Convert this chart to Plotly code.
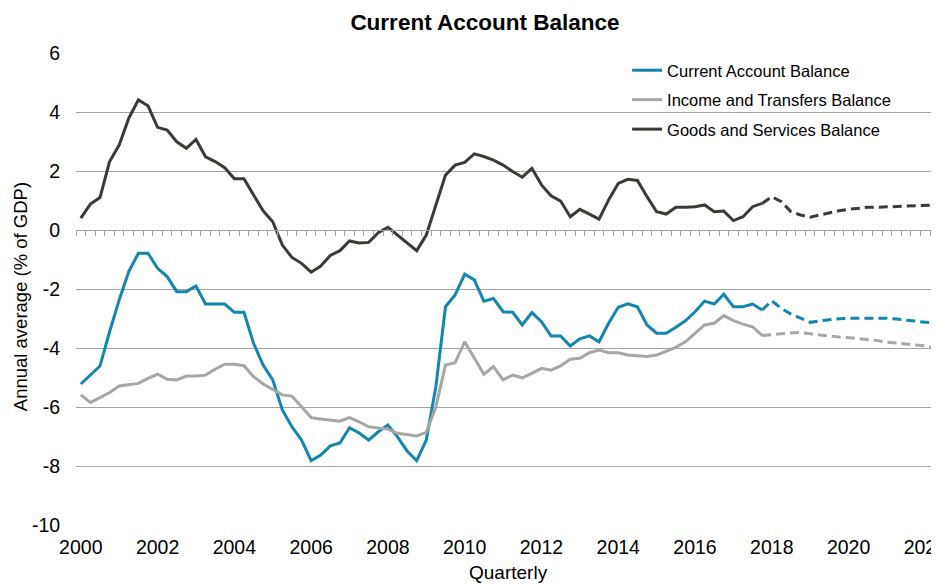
import plotly.graph_objects as go

# Quarterly values, 2000Q1 .. 2017Q4 (actual) and 2017Q4 .. 2022Q2 (forecast)
start_year = 2000
current_actual = [-5.22, -4.92, -4.61, -3.45, -2.37, -1.41, -0.79, -0.79, -1.30, -1.58,
                  -2.09, -2.09, -1.90, -2.51, -2.51, -2.51, -2.79, -2.79, -3.84, -4.58,
                  -5.08, -6.10, -6.67, -7.12, -7.82, -7.63, -7.32, -7.22, -6.70, -6.88,
                  -7.12, -6.84, -6.61, -7.01, -7.49, -7.82, -7.12, -5.31, -2.60, -2.20,
                  -1.50, -1.69, -2.41, -2.32, -2.77, -2.79, -3.22, -2.80, -3.11, -3.59,
                  -3.59, -3.93, -3.69, -3.59, -3.79, -3.16, -2.62, -2.50, -2.60, -3.22,
                  -3.50, -3.50, -3.30, -3.08, -2.77, -2.41, -2.51, -2.18, -2.60, -2.60,
                  -2.51, -2.71]
income_actual = [-5.59, -5.85, -5.68, -5.51, -5.29, -5.25, -5.20, -5.03, -4.89, -5.06,
                 -5.08, -4.95, -4.95, -4.92, -4.72, -4.55, -4.55, -4.60, -4.97, -5.22,
                 -5.42, -5.59, -5.63, -5.99, -6.36, -6.41, -6.44, -6.48, -6.36, -6.50,
                 -6.67, -6.72, -6.75, -6.89, -6.93, -6.98, -6.86, -5.99, -4.58, -4.50,
                 -3.79, -4.35, -4.89, -4.63, -5.08, -4.92, -5.01, -4.86, -4.69, -4.75,
                 -4.61, -4.38, -4.35, -4.16, -4.07, -4.16, -4.16, -4.24, -4.27, -4.29,
                 -4.24, -4.12, -3.98, -3.79, -3.50, -3.22, -3.16, -2.90, -3.07, -3.19,
                 -3.28, -3.58]
goods_actual = [0.40, 0.88, 1.10, 2.32, 2.88, 3.79, 4.41, 4.21, 3.48, 3.39,
                2.99, 2.77, 3.07, 2.48, 2.32, 2.11, 1.74, 1.74, 1.19, 0.65,
                0.28, -0.51, -0.93, -1.13, -1.43, -1.22, -0.86, -0.70, -0.37, -0.44,
                -0.42, -0.09, 0.09, -0.17, -0.45, -0.70, -0.17, 0.82, 1.86, 2.20,
                2.29, 2.58, 2.49, 2.37, 2.20, 1.98, 1.79, 2.09, 1.53, 1.16,
                0.98, 0.45, 0.70, 0.54, 0.37, 1.02, 1.58, 1.72, 1.68, 1.13,
                0.62, 0.54, 0.77, 0.77, 0.79, 0.85, 0.62, 0.64, 0.32, 0.45,
                0.79, 0.90]
current_forecast = [-2.71, -2.40, -2.66, -2.85, -2.99, -3.13, -3.08, -3.04, -3.01, -2.99,
                    -2.99, -2.99, -2.99, -2.99, -3.02, -3.05, -3.08, -3.12, -3.16]
income_forecast = [-3.58, -3.54, -3.52, -3.49, -3.47, -3.52, -3.56, -3.59, -3.63, -3.65,
                   -3.68, -3.71, -3.75, -3.80, -3.83, -3.85, -3.89, -3.93, -3.99]
goods_forecast = [0.90, 1.13, 0.96, 0.62, 0.51, 0.43, 0.51, 0.59, 0.65, 0.70,
                  0.73, 0.77, 0.77, 0.79, 0.79, 0.81, 0.82, 0.83, 0.85]

series_names = ["Current Account Balance", "Income and Transfers Balance", "Goods and Services Balance"]
year_ticks = list(range(2000, 2023, 2))
y_ticks = list(range(-10, 7, 2))
y_tick_labels = [str(v) for v in y_ticks]  # plain hyphen minus, as in the original

x_actual = [start_year + i / 4 for i in range(len(current_actual))]
f0 = len(current_actual) - 1
x_forecast = [start_year + (f0 + i) / 4 for i in range(len(current_forecast))]

BLUE = "#1386AD"
GREY = "#A6A6A6"
DARK = "#3B3B36"
GRID = "#A3A3A3"
FONT = "Arial, Liberation Sans, sans-serif"

# layout geometry (page has an 8px body margin)
W, H = 939, 587
ML, MT, MB, MR = 68, 45, 70, 0
PW = W - ML - MR
PH = H - MT - MB

fig = go.Figure()
for name, ya, yf, col in [
    (series_names[0], current_actual, current_forecast, BLUE),
    (series_names[1], income_actual, income_forecast, GREY),
    (series_names[2], goods_actual, goods_forecast, DARK),
]:
    fig.add_trace(go.Scatter(x=x_actual, y=ya, mode="lines", name=name, legendgroup=name,
                             line=dict(color=col, width=3)))
    fig.add_trace(go.Scatter(x=x_forecast, y=yf, mode="lines", name=name + " (forecast)",
                             legendgroup=name, showlegend=False,
                             line=dict(color=col, width=3, dash="9px,5px")))

# helper trace so the zero-line category axis is drawn
fig.add_trace(go.Scatter(x=[2000], y=[None], xaxis="x2", showlegend=False, hoverinfo="skip"))

fig.update_layout(
    width=W, height=H,
    margin=dict(l=ML, r=MR, t=MT, b=MB),
    paper_bgcolor="white", plot_bgcolor="white",
    font=dict(family=FONT, color="black", size=18),
    title=dict(text="<b>Current Account Balance</b>", x=477 / W, xref="container",
               xanchor="center", y=1 - 14 / H, yanchor="middle",
               font=dict(size=22.5, family=FONT, color="black")),
    xaxis=dict(range=[1999.875, 2022.486], tickmode="array", tickvals=year_ticks,
               ticktext=[str(y) for y in year_ticks], showgrid=False, zeroline=False,
               showline=False, ticks="outside", ticklen=5, tickcolor="rgba(0,0,0,0)",
               tickfont=dict(size=19.5), ticklabeloverflow="allow"),
    xaxis2=dict(overlaying="x", matches="x", anchor="free", position=10 / 16, side="bottom",
                showgrid=False, zeroline=False, showline=True, linecolor=GRID, linewidth=1,
                ticks="outside", ticklen=5, tickcolor=GRID, tickwidth=1,
                tick0=1999.875, dtick=0.25, showticklabels=False),
    yaxis=dict(range=[-10, 6], tickmode="array", tickvals=y_ticks, ticktext=y_tick_labels,
               showgrid=True, gridcolor=GRID, gridwidth=1, zeroline=False, showline=False,
               ticks="outside", ticklen=11, tickcolor="rgba(0,0,0,0)",
               tickfont=dict(size=19.5)),
    legend=dict(x=(621 - ML) / PW, y=1.0, xanchor="left", yanchor="top",
                font=dict(size=16.5), bgcolor="rgba(0,0,0,0)", tracegroupgap=5,
                traceorder="grouped"),
    annotations=[
        dict(text="Annual average (% of GDP)", xref="paper", yref="paper",
             x=(12 - ML) / PW, y=(H - MB - 289) / PH, xanchor="center", yanchor="middle",
             textangle=-90, showarrow=False, font=dict(size=18.5)),
        dict(text="Quarterly", xref="paper", yref="paper",
             x=(502 - ML) / PW, y=-(564 - (H - MB)) / PH, xanchor="center", yanchor="middle",
             showarrow=False, font=dict(size=19)),
    ],
)

fig.write_html("out.html")
